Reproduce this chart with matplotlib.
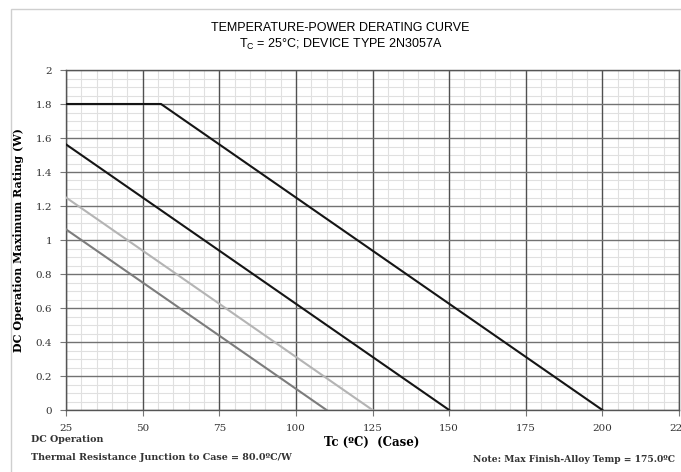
import matplotlib
matplotlib.use("Agg")
import matplotlib.pyplot as plt
from matplotlib.ticker import MultipleLocator
from matplotlib.patches import Rectangle

# derating curves (case temp in C, power in W), 80 C/W junction-to-case
curve1_t = [25, 56, 200]
curve1_p = [1.8, 1.8, 0.0]
curve2_t = [25, 150]
curve2_p = [1.5625, 0.0]
curve3_t = [25, 125]
curve3_p = [1.25, 0.0]
curve4_t = [25, 110]
curve4_p = [1.0625, 0.0]

x_ticks = [25, 50, 75, 100, 125, 150, 175, 200, 225]
y_ticks = [0, 0.2, 0.4, 0.6, 0.8, 1, 1.2, 1.4, 1.6, 1.8, 2]
y_ticklabels = ["0", "0.2", "0.4", "0.6", "0.8", "1", "1.2", "1.4", "1.6", "1.8", "2"]

serif = "DejaVu Serif"
narrow = ["Liberation Sans Narrow", "Liberation Sans", "DejaVu Sans"]

fig = plt.figure(figsize=(6.81, 4.72), dpi=100)
ax = fig.add_axes([66 / 681, 1 - 410 / 472, (679 - 66) / 681, 340 / 472])

# outer page frame
fig.patches.append(Rectangle((11 / 681, -0.1), 1.2, 1.1 - 9.5 / 472, transform=fig.transFigure,
                             fill=False, edgecolor="#cfcfcf", lw=1.0))

ax.set_xlim(25, 225)
ax.set_ylim(0, 2)
ax.xaxis.set_minor_locator(MultipleLocator(5))
ax.yaxis.set_minor_locator(MultipleLocator(0.05))
ax.set_xticks(x_ticks)
ax.set_yticks(y_ticks)
ax.set_yticklabels(y_ticklabels)

# fine grid from the axis, heavy grid drawn on top of it
ax.grid(which="minor", color="#e0e0e0", lw=0.8)
ax.set_axisbelow(True)
for xv in x_ticks:
    ax.axvline(xv, color="#505050", lw=1.0, zorder=0.8)
for yv in y_ticks:
    ax.axhline(yv, color="#727272", lw=1.0, zorder=0.8)

ax.tick_params(which="minor", length=0)
ax.tick_params(which="major", length=4, color="#777777", direction="out", pad=6,
               labelsize=7.5, labelcolor="#333333")
for lab in ax.get_xticklabels() + ax.get_yticklabels():
    lab.set_family(serif)
for s in ax.spines.values():
    s.set_color("#555555")
    s.set_linewidth(1.0)

ax.plot(curve1_t, curve1_p, color="#151515", lw=1.5, zorder=3)
ax.plot(curve2_t, curve2_p, color="#151515", lw=1.5, zorder=3)
ax.plot(curve3_t, curve3_p, color="#b4b4b4", lw=1.5, zorder=3)
ax.plot(curve4_t, curve4_p, color="#7c7c7c", lw=1.5, zorder=3)

ax.set_ylabel("DC Operation Maximum Rating (W)", family=serif, fontweight="bold",
              fontsize=8, labelpad=8)

fig.text(0.5, 1 - 28 / 472, "TEMPERATURE-POWER DERATING CURVE", ha="center", va="center",
         family=narrow, fontsize=9)
fig.text(0.5, 1 - 44 / 472, r"T$_\mathregular{C}$ = 25°C; DEVICE TYPE 2N3057A", ha="center",
         va="center", family=narrow, fontsize=9)

fig.text(372 / 681, 1 - 442 / 472, "Tc (ºC)  (Case)", ha="center", va="center",
         family=serif, fontweight="bold", fontsize=8.5)
fig.text(31 / 681, 1 - 439 / 472, "DC Operation", ha="left", va="center",
         family=serif, fontweight="bold", fontsize=6.8, color="#333333")
fig.text(31 / 681, 1 - 458 / 472, "Thermal Resistance Junction to Case = 80.0ºC/W", ha="left",
         va="center", family=serif, fontweight="bold", fontsize=6.8, color="#333333")
fig.text(675 / 681, 1 - 459 / 472, "Note: Max Finish-Alloy Temp = 175.0ºC", ha="right",
         va="center", family=serif, fontweight="bold", fontsize=6.6, color="#333333")

fig.savefig("out.png", dpi=100)
